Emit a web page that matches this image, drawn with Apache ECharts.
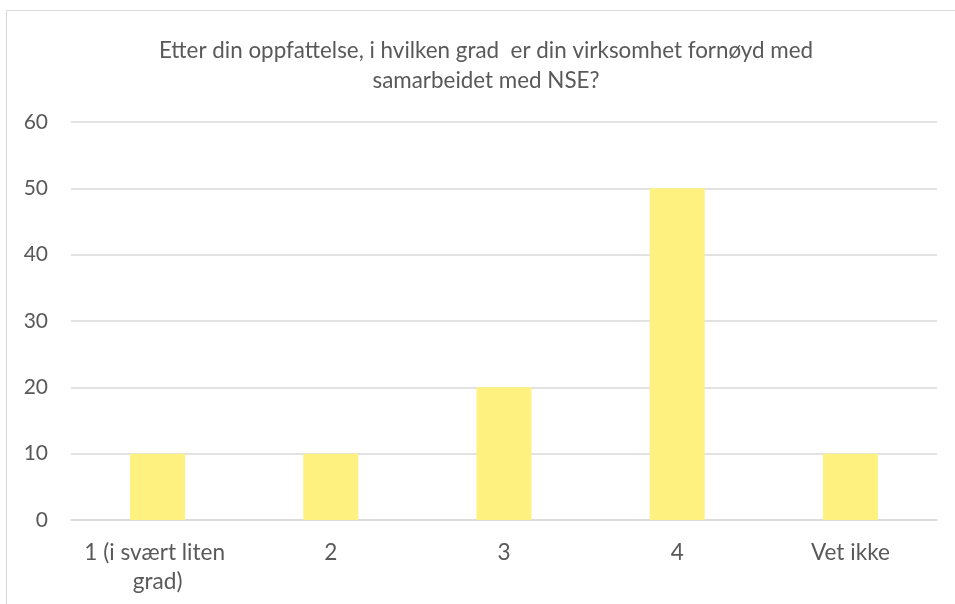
<!DOCTYPE html>
<html>
<head>
<meta charset="utf-8">
<script src="https://cdn.jsdelivr.net/npm/echarts@6/dist/echarts.min.js"></script>
<style>
  html, body { margin: 0; padding: 0; background: #ffffff; }
  #chart { width: 955px; height: 604px; }
</style>
</head>
<body>
<div id="chart"></div>
<script>
// Survey: satisfaction with the cooperation with NSE
const titleText = 'Etter din oppfattelse, i hvilken grad  er din virksomhet fornøyd med\nsamarbeidet med NSE?';
const categories = ['1 (i svært liten grad)', '2', '3', '4', 'Vet ikke'];
const values = [10, 10, 20, 50, 10];
const yTicks = { min: 0, max: 60, interval: 10 };

const FONT = 'Lato, "Open Sans", sans-serif';
const TEXT = '#595959';
const GRID = '#D9D9D9';

const chart = echarts.init(document.getElementById('chart'), null, { renderer: 'canvas' });
chart.setOption({
  animation: false,
  backgroundColor: '#ffffff',
  graphic: [{
    type: 'rect',
    shape: { x: 6.5, y: 10.5, width: 1000, height: 700 },
    style: { fill: 'none', stroke: '#D9D9D9', lineWidth: 1 },
    silent: true
  }],
  title: {
    text: titleText,
    left: 481,
    top: 31,
    textAlign: 'center',
    textStyle: {
      fontFamily: FONT,
      fontSize: 22.4,
      fontWeight: 'normal',
      color: TEXT,
      lineHeight: 30
    }
  },
  grid: { left: 71, right: 18, top: 122, bottom: 84, containLabel: false },
  xAxis: {
    type: 'category',
    data: categories,
    axisLine: { show: true, lineStyle: { color: GRID, width: 1.5 } },
    axisTick: { show: false },
    axisLabel: {
      color: TEXT,
      fontFamily: FONT,
      fontSize: 22.6,
      lineHeight: 29,
      margin: 18,
      width: 165,
      overflow: 'break',
      interval: 0
    }
  },
  yAxis: {
    type: 'value',
    min: yTicks.min,
    max: yTicks.max,
    interval: yTicks.interval,
    axisLine: { show: false },
    axisTick: { show: false },
    splitLine: { lineStyle: { color: GRID, width: 1.5 } },
    axisLabel: {
      color: TEXT,
      fontFamily: FONT,
      fontSize: 21,
      margin: 23
    }
  },
  series: [{
    type: 'bar',
    data: values,
    barWidth: 55,
    itemStyle: { color: '#FFF17F' }
  }]
});
</script>
</body>
</html>
